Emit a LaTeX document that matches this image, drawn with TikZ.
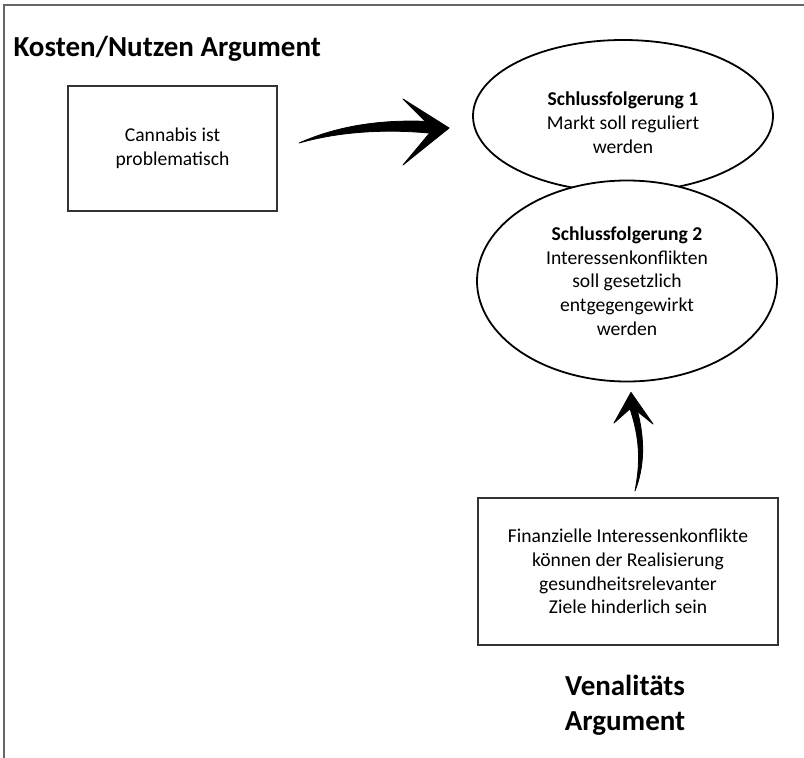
\documentclass[tikz,border=0pt]{standalone}
\usepackage{fontspec}
\setmainfont{Carlito}
\usetikzlibrary{shapes.geometric,calc}

\tikzset{
  box/.style={rectangle,draw=black!80,line width=2.2pt,align=center,inner sep=0pt},
  schluss/.style={ellipse,draw,line width=1.8pt,align=center,inner sep=0pt,fill=white},
  brush/.style={fill=black,draw=black,line width=0.8pt,line join=round},
  heading/.style={font=\fontsize{29}{35}\selectfont\bfseries,align=center}
}

\begin{document}
\begin{tikzpicture}[x=1pt,y=-1pt,font=\fontsize{19.6}{23.7}\selectfont]
    \useasboundingbox (0,0) rectangle (804,758);
    \draw[black!60,line width=1.5pt] (4,758) -- (4,5) -- (804,5);

    \node at (10,49) [heading,anchor=west] (k) {Kosten/Nutzen Argument};
    \node at (172.5,148.5) [box,minimum width=209pt,minimum height=125pt] (b1) {Cannabis ist\\problematisch};
    \node at (623,116) [schluss,minimum width=300pt,minimum height=152pt] (e1) {\rule{0pt}{27pt}\textbf{Schlussfolgerung 1}\\Markt soll reguliert\\werden};
    \node at (627,281) [schluss,minimum width=300pt,minimum height=201pt] (e2) {\textbf{Schlussfolgerung 2}\\Interessenkonflikten\\soll gesetzlich\\entgegengewirkt\\werden};
    \node at (628,571.5) [box,minimum width=300pt,minimum height=147pt] (b2) {Finanzielle Interessenkonflikte\\können der Realisierung\\gesundheitsrelevanter\\Ziele hinderlich sein};
    \node at (625,705) [heading] (v) {Venalitäts\\Argument};

    % brush arrows
    \coordinate (t1) at ($(b1.east)+(21,-5.5)$);
    \coordinate (p1) at ($(e1.west)+(-23,12)$);
    \coordinate (t2) at ($(b2.north)+(7,-6)$);
    \coordinate (p2) at ($(e2.south)+(4,10)$);
    \fill[brush] (t1) .. controls (335,127) and (380,118) .. (438,122) -- (438,134) .. controls (395,129) and (345,130) .. (t1) -- cycle;
    \filldraw[brush] (403,99) -- (p1) -- (403,165) -- (433,129) -- cycle;
    \fill[brush] (t2) .. controls (640,465) and (641,440) .. (629,406) -- (636,406) .. controls (646,440) and (644,468) .. (t2) -- cycle;
    \filldraw[brush] (614,423) -- (p2) -- (653,424) -- (632,407) -- cycle;
\end{tikzpicture}
\end{document}
